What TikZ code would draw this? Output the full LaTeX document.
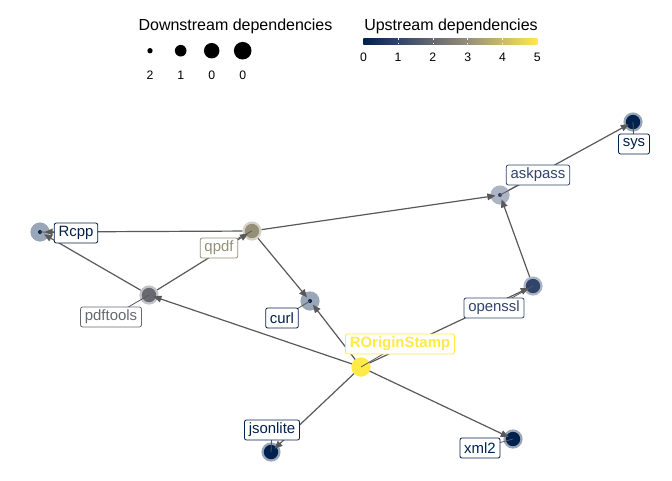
\documentclass[tikz,border=0pt]{standalone}
\usepackage{fontspec}
\setmainfont{Liberation Sans}
\usetikzlibrary{arrows.meta}

\definecolor{cv0}{HTML}{00204D}
\definecolor{cv1}{HTML}{31446B}
\definecolor{cv2}{HTML}{666970}
\definecolor{cv3}{HTML}{958F78}
\definecolor{cv4}{HTML}{CBBA69}
\definecolor{cv5}{HTML}{FFEA46}
\definecolor{edge}{HTML}{595959}

\begin{document}
\begin{tikzpicture}[
  x=0.75pt, y=-0.75pt,
  pkg/.style 2 args={circle, inner sep=0pt, outer sep=0pt, minimum size=14.4pt, fill=#1!40!white,
    label={[circle, inner sep=0pt, fill=#1, minimum size=#2]center:}},
  arrow/.style={-{Triangle[length=6pt, width=5pt]}, draw=edge, line width=0.9pt,
    shorten <=7.2pt, shorten >=3.5pt},
  line/.style={-, draw=edge, line width=0.6pt},
  tag/.style={draw=#1, text=#1, fill=white, rounded corners=1.5pt, line width=0.6pt,
    inner xsep=3.2pt, inner ysep=0pt, minimum height=15pt,
    font=\fontsize{11.2}{13.4}\selectfont},
  title/.style={anchor=base, font=\fontsize{12}{14}\selectfont},
  tick/.style={font=\fontsize{9.2}{11}\selectfont},
  every node/.style={align=center}]

  \useasboundingbox (0,0) rectangle (672,480);

  % Legend: downstream dependencies (point size)
  \node[title] (down-title) at (235.5,30) {Downstream dependencies};
  \node[circle, fill=black, inner sep=0pt, minimum size=4pt] (size-a) at (150,50.7) {};
  \node[circle, fill=black, inner sep=0pt, minimum size=8.7pt] (size-b) at (180.7,50.7) {};
  \node[circle, fill=black, inner sep=0pt, minimum size=11.6pt] (size-c) at (211.7,50.7) {};
  \node[circle, fill=black, inner sep=0pt, minimum size=13.2pt] (size-d) at (242.7,50.7) {};
  \node[tick] (size-a-text) at (150,75) {2};
  \node[tick] (size-b-text) at (180.7,75) {1};
  \node[tick] (size-c-text) at (211.7,75) {0};
  \node[tick] (size-d-text) at (242.7,75) {0};

  % Legend: upstream dependencies (colour bar)
  \node[title] (up-title) at (451,30) {Upstream dependencies};
  \shade[left color=cv0, right color=cv1] (363.3,38.3) rectangle (398.1,44);
  \shade[left color=cv1, right color=cv2] (398.1,38.3) rectangle (432.9,44);
  \shade[left color=cv2, right color=cv3] (432.9,38.3) rectangle (467.7,44);
  \shade[left color=cv3, right color=cv4] (467.7,38.3) rectangle (502.5,44);
  \shade[left color=cv4, right color=cv5] (502.5,38.3) rectangle (537.3,44);
  \draw[white, line width=0.4pt]
    (398.1,38.3) -- (398.1,39.5) (398.1,42.8) -- (398.1,44)
    (432.9,38.3) -- (432.9,39.5) (432.9,42.8) -- (432.9,44)
    (467.7,38.3) -- (467.7,39.5) (467.7,42.8) -- (467.7,44)
    (502.5,38.3) -- (502.5,39.5) (502.5,42.8) -- (502.5,44);
  \node[tick] (bar-0) at (363.5,57.7) {0};
  \node[tick] (bar-1) at (398.1,57.7) {1};
  \node[tick] (bar-2) at (432.9,57.7) {2};
  \node[tick] (bar-3) at (467.7,57.7) {3};
  \node[tick] (bar-4) at (502.5,57.7) {4};
  \node[tick] (bar-5) at (537.3,57.7) {5};

  % Packages
  \node[pkg={cv0}{3pt}] (rcpp) at (40,232) {};
  \node[pkg={cv3}{10.8pt}] (qpdf) at (252,231) {};
  \node[pkg={cv2}{10.8pt}] (pdftools) at (149,295) {};
  \node[pkg={cv0}{3pt}] (curl) at (310,301) {};
  \node[pkg={cv5}{14.4pt}] (roriginstamp) at (361,367) {};
  \node[pkg={cv1}{10.8pt}] (openssl) at (533,286) {};
  \node[pkg={cv1}{3pt}] (askpass) at (500,195) {};
  \node[pkg={cv0}{10.8pt}] (sys) at (633,122) {};
  \node[pkg={cv0}{10.8pt}] (jsonlite) at (271,452) {};
  \node[pkg={cv0}{10.8pt}] (xml2) at (513,439) {};

  % Dependencies
  \draw[arrow] (qpdf.center) -- (rcpp.center);
  \draw[arrow] (qpdf.center) -- (askpass.center);
  \draw[arrow] (qpdf.center) -- (curl.center);
  \draw[arrow] (pdftools.center) -- (rcpp.center);
  \draw[arrow] (pdftools.center) -- (qpdf.center);
  \draw[arrow] (roriginstamp.center) -- (pdftools.center);
  \draw[arrow] (roriginstamp.center) -- (curl.center);
  \draw[arrow] (roriginstamp.center) -- (openssl.center);
  \draw[arrow] (roriginstamp.center) -- (jsonlite.center);
  \draw[arrow] (roriginstamp.center) -- (xml2.center);
  \draw[arrow] (openssl.center) -- (askpass.center);
  \draw[arrow] (askpass.center) -- (sys.center);

  % Labels and their leaders
  \coordinate (rcpp-anchor) at (76,233);
  \coordinate (qpdf-anchor) at (219,248);
  \coordinate (pdftools-anchor) at (111,317);
  \coordinate (curl-anchor) at (282,318);
  \coordinate (roriginstamp-anchor) at (400,344);
  \coordinate (openssl-anchor) at (494,308);
  \coordinate (askpass-anchor) at (538,175);
  \coordinate (sys-anchor) at (634,144);
  \coordinate (jsonlite-anchor) at (272,430);
  \coordinate (xml2-anchor) at (480,448);

  \draw[line] (rcpp-anchor) -- (rcpp.center);
  \draw[line] (qpdf-anchor) -- (qpdf.center);
  \draw[line] (pdftools-anchor) -- (pdftools.center);
  \draw[line] (curl-anchor) -- (curl.center);
  \draw[line] (roriginstamp-anchor) -- (roriginstamp.center);
  \draw[line] (openssl-anchor) -- (openssl.center);
  \draw[line] (askpass-anchor) -- (askpass.center);
  \draw[line] (sys-anchor) -- (sys.center);
  \draw[line] (jsonlite-anchor) -- (jsonlite.center);
  \draw[line] (xml2-anchor) -- (xml2.center);

  \node[tag=cv0] (rcpp-label) at (rcpp-anchor) {Rcpp};
  \node[tag=cv3] (qpdf-label) at (qpdf-anchor) {qpdf};
  \node[tag=cv2] (pdftools-label) at (pdftools-anchor) {pdftools};
  \node[tag=cv0] (curl-label) at (curl-anchor) {curl};
  \node[tag=cv5, font=\fontsize{11.2}{13.4}\selectfont\bfseries] (roriginstamp-label)
    at (roriginstamp-anchor) {ROriginStamp};
  \node[tag=cv1] (openssl-label) at (openssl-anchor) {openssl};
  \node[tag=cv1] (askpass-label) at (askpass-anchor) {askpass};
  \node[tag=cv0] (sys-label) at (sys-anchor) {sys};
  \node[tag=cv0] (jsonlite-label) at (jsonlite-anchor) {jsonlite};
  \node[tag=cv0] (xml2-label) at (xml2-anchor) {xml2};

\end{tikzpicture}
\end{document}
